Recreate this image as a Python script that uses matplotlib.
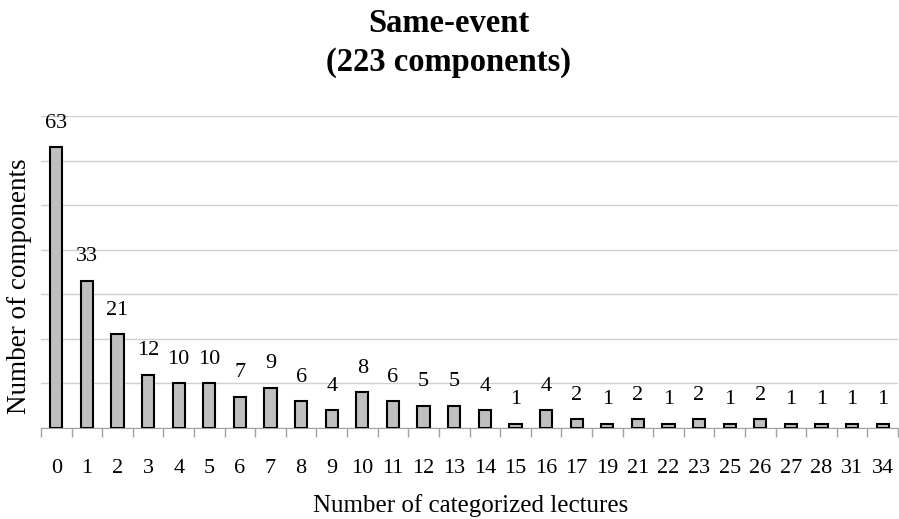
import matplotlib
matplotlib.use('Agg')
from matplotlib import pyplot as plt
import numpy as np

lectures = ['0', '1', '2', '3', '4', '5', '6', '7', '8', '9', '10', '11', '12', '13',
            '14', '15', '16', '17', '19', '21', '22', '23', '25', '26', '27', '28', '31', '34']
components = [63, 33, 21, 12, 10, 10, 7, 9, 6, 4, 8, 6, 5, 5,
              4, 1, 4, 2, 1, 2, 1, 2, 1, 2, 1, 1, 1, 1]

plt.rcParams['font.family'] = ['Liberation Serif', 'DejaVu Serif']

W, H = 899, 519
fig = plt.figure(figsize=(W / 100, H / 100), dpi=100)
ax = fig.add_axes([41 / W, 1 - 428 / H, 857 / W, 312 / H])

x = np.arange(len(lectures))
ax.bar(x, components, width=0.4, color='#bfbfbf', edgecolor='black', linewidth=1.5, zorder=3)

for xi, v in zip(x, components):
    ax.annotate(str(v), (xi, v), xytext=(0, 14), textcoords='offset points',
                ha='center', va='baseline', fontsize=16)

ax.set_xlim(-0.5, len(lectures) - 0.5)
ax.set_ylim(0, 70)
ax.set_yticks(np.arange(0, 71, 10))
ax.set_yticklabels([])
ax.tick_params(axis='y', length=0)
ax.yaxis.grid(True, color='#d0d0d0', linewidth=1, zorder=0)

ax.set_xticks(x)
ax.set_xticklabels(lectures, fontsize=16)
ax.tick_params(axis='x', length=0, pad=22)
ax.set_xticks(np.arange(-0.5, len(lectures), 1), minor=True)
ax.tick_params(axis='x', which='minor', length=6.5, color='#a0a0a0', width=1)

for s in ['top', 'right', 'left']:
    ax.spines[s].set_visible(False)
ax.spines['bottom'].set_color('#a0a0a0')

fig.text(471 / W, 1 - 512 / H, 'Number of categorized lectures', fontsize=18,
         ha='center', va='baseline')
fig.text(20 / W, 1 - 286 / H, 'Number of components', fontsize=19.5,
         ha='center', va='center', rotation=90)
fig.text(449 / W, 1 - 32 / H, 'Same-event', fontsize=23.5,
         fontweight='bold', ha='center', va='baseline')
fig.text(449 / W, 1 - 71 / H, '(223 components)', fontsize=23.5,
         fontweight='bold', ha='center', va='baseline')

fig.savefig('out.png', dpi=100)
